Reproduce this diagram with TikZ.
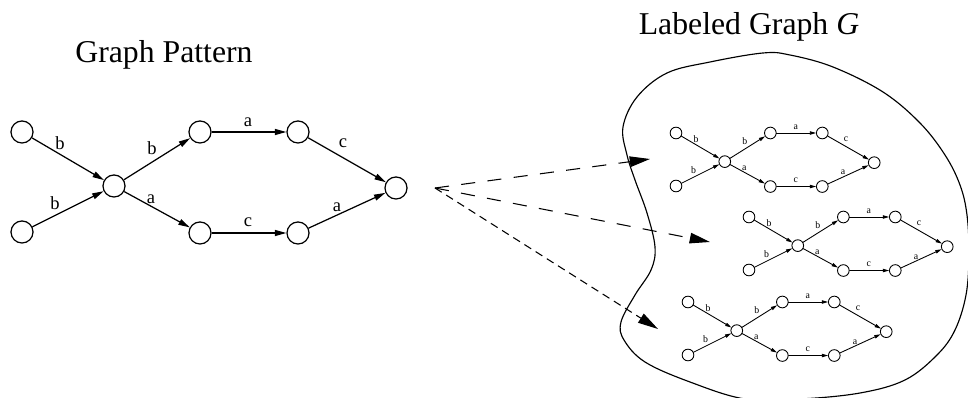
\documentclass[tikz,border=0pt]{standalone}
\usepackage{fontspec}
\setmainfont{Liberation Serif}
\usetikzlibrary{arrows.meta}
\newcommand\gpattern{%
  \node[vx] (n1) at (0,0) {};
  \node[vx] (n2) at (0,100) {};
  \node[vx] (n3) at (92,54) {};
  \node[vx] (n4) at (178,0) {};
  \node[vx] (n5) at (178,101) {};
  \node[vx] (n6) at (276,0) {};
  \node[vx] (n7) at (276,101) {};
  \node[vx] (n8) at (374,56) {};
  \draw[arr] (n1) -- (n3) node[lab] at (38,11) {b};
  \draw[arr] (n2) -- (n3) node[lab] at (33,71) {b};
  \draw[arr] (n3) -- (n4) node[lab] at (130,16) {b};
  \draw[arr] (n3) -- (n5) node[lab] at (129,67) {a};
  \draw[arr] (n4) -- (n6) node[lab] at (226,-10) {a};
  \draw[arr] (n5) -- (n7) node[lab] at (226,90) {c};
  \draw[arr] (n6) -- (n8) node[lab] at (321,11) {c};
  \draw[arr] (n7) -- (n8) node[lab] at (315,75) {a};
}
\begin{document}
\begin{tikzpicture}[x=0.567pt, y=-0.567pt,
  vx/.style={circle, draw, minimum size=12.5pt, inner sep=0pt},
  lab/.style={inner sep=0pt, font=\fontsize{10.5}{12}\selectfont},
  title/.style={anchor=base, inner sep=0pt, font=\fontsize{18}{20}\selectfont},
  bigarr/.style={line width=0.7pt, -{Triangle[length=6.5pt,width=3.4pt]}},
  smallarr/.style={line width=0.5pt, -{Triangle[length=3.6pt,width=1.9pt]}},
  dasharr/.style={line width=0.6pt, -{Triangle[length=11.5pt,width=6pt]}}]
\useasboundingbox (0,0) rectangle (968,398);
\clip (0,0) rectangle (968,398);

\node[title] (t1) at (164,63) {Graph Pattern};
\node[title] (t2) at (749,35) {Labeled Graph {\itshape G}};

% blob (graph G)
\draw[line width=0.65pt] plot[smooth cycle, tension=0.6] coordinates {
  (623,127) (637,97) (667,73) (710,62) (763,53) (790,55) (833,67) (883,92)
  (920,123) (945,155) (960,185) (967,215) (969,255) (966,295) (955,330)
  (937,355) (905,380) (860,393) (800,399) (745,399) (690,382) (645,362)
  (624,340) (621,322) (635,295) (651,270) (655,247) (647,213) (635,180)
  (627,155)};

% pattern
\begin{scope}[name prefix=p-, shift={(22,132)}, arr/.style={bigarr}, vx/.append style={line width=0.7pt}]
  \gpattern
\end{scope}

% occurrences
\begin{scope}[name prefix=g1-, shift={(676,133)}, scale=0.53, transform shape, arr/.style={smallarr}, vx/.append style={line width=0.5pt}]
  \gpattern
\end{scope}
\begin{scope}[name prefix=g2-, shift={(749,217)}, scale=0.53, transform shape, arr/.style={smallarr}, vx/.append style={line width=0.5pt}]
  \gpattern
\end{scope}
\begin{scope}[name prefix=g3-, shift={(688,302)}, scale=0.53, transform shape, arr/.style={smallarr}, vx/.append style={line width=0.5pt}]
  \gpattern
\end{scope}

% dashed mapping arrows
\coordinate (apex) at (435,188);
\coordinate (e1) at (650,159);
\coordinate (e2) at (710,242);
\coordinate (e3) at (658,329);
\draw[dasharr, dash pattern=on 8pt off 7pt] (apex) -- (e1);
\draw[dasharr, dash pattern=on 8pt off 7pt] (apex) -- (e2);
\draw[dasharr, dash pattern=on 4.5pt off 3pt] (apex) -- (e3);
\end{tikzpicture}
\end{document}
